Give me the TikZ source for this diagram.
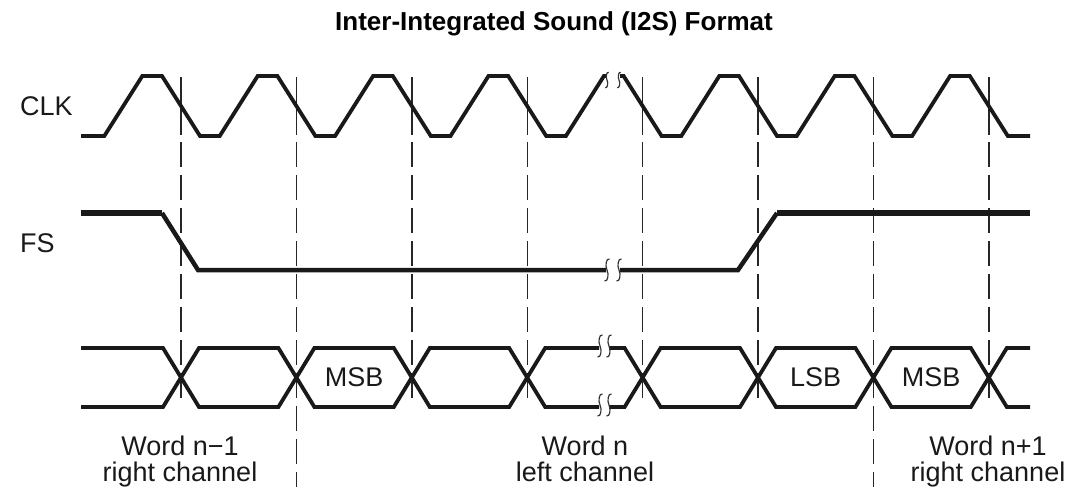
\documentclass[tikz,border=0pt]{standalone}
\usepackage{fontspec}
\setmainfont{Liberation Sans}
\begin{document}
\begin{tikzpicture}[x=1pt,y=-1pt,
  sig/.style={draw=black!90,line width=3.8pt,line join=miter,miter limit=3},
  fshi/.style={draw=black!90,line width=5.5pt},
  fslo/.style={draw=black!90,line width=4.5pt},
  guide/.style={draw=black!85,line width=1.4pt},
  guidedash/.style={draw=black!85,line width=1.4pt,dash pattern=on 25pt off 8pt},
  lbl/.style={font=\fontsize{27}{30}\selectfont,text=black!90,inner sep=0pt},
  brk/.pic={\draw[line width=1.2pt,black!80] (2.5,-11) .. controls (-1,-12) and (-2,-4) .. (0,0) .. controls (2,4) and (1,12) .. (-2.5,11);}
]
\useasboundingbox (0,0) rectangle (1070,487);

% title and signal names
\node[font=\bfseries\fontsize{26}{30}\selectfont,inner sep=0pt] (title) at (554,24) {Inter-Integrated Sound (I2S) Format};
\node[lbl,anchor=west] (clk) at (20,106) {CLK};
\node[lbl,anchor=west] (fs) at (20,243) {FS};

% guide lines
\foreach \c/\e in {181/405, 296.4/487, 411.8/405, 527.2/405, 642.6/405, 758/405, 873.4/487, 988.8/405} {
  \draw[guide] (\c,77) -- (\c,135);
  \draw[guidedash] (\c,142) -- (\c,\e);
}

% CLK
\draw[sig] (81,136) -- (104.3,136) -- (142.3,76) -- (162,76) -- (200,136) -- (219.7,136) -- (257.7,76) -- (277.4,76) -- (315.4,136) -- (335.1,136) -- (373.1,76) -- (392.8,76) -- (430.8,136) -- (450.5,136) -- (488.5,76) -- (508.2,76) -- (546.2,136) -- (565.9,136) -- (603.9,76) -- (606,76);
\draw[sig] (620,76) -- (623.6,76) -- (661.6,136) -- (681.3,136) -- (719.3,76) -- (739,76) -- (777,136) -- (796.7,136) -- (834.7,76) -- (854.4,76) -- (892.4,136) -- (912.1,136) -- (950.1,76) -- (969.8,76) -- (1007.8,136) -- (1030,136);
\pic[scale=0.7] at (607,80) {brk};
\pic[scale=0.7] at (619,80) {brk};

% FS
\draw[fshi] (81,213) -- (162,213);
\draw[fslo] (162,213) -- (198,270) -- (606,270);
\draw[fslo] (620,270) -- (738,270) -- (777,213);
\draw[fshi] (777,213) -- (1030,213);
\pic at (607,270) {brk};
\pic at (619,270) {brk};

% data
\draw[sig] (81,348) -- (163,348) -- (199,407) -- (278.4,407) -- (314.4,348) -- (393.8,348) -- (429.8,407) -- (509.2,407) -- (545.2,348) -- (599,348);
\draw[sig] (609,348) -- (624.6,348) -- (660.6,407) -- (740,407) -- (776,348) -- (855.4,348) -- (891.4,407) -- (970.8,407) -- (1006.8,348) -- (1030,348);
\draw[sig] (81,407) -- (163,407) -- (199,348) -- (278.4,348) -- (314.4,407) -- (393.8,407) -- (429.8,348) -- (509.2,348) -- (545.2,407) -- (599,407);
\draw[sig] (609,407) -- (624.6,407) -- (660.6,348) -- (740,348) -- (776,407) -- (855.4,407) -- (891.4,348) -- (970.8,348) -- (1006.8,407) -- (1030,407);
\pic at (600,346) {brk};
\pic at (609,346) {brk};
\pic at (600,405) {brk};
\pic at (609,405) {brk};

\node[lbl] (msbA) at (354.1,377.5) {MSB};
\node[lbl] (lsb) at (815.7,377.5) {LSB};
\node[lbl] (msbB) at (931.1,377.5) {MSB};

% word labels
\node[lbl,anchor=base] (wA1) at (180,455) {Word n−1};
\node[lbl,anchor=base] (wA2) at (180,481) {right channel};
\node[lbl,anchor=base] (wB1) at (585,455) {Word n};
\node[lbl,anchor=base] (wB2) at (585,481) {left channel};
\node[lbl,anchor=base] (wC1) at (988,455) {Word n+1};
\node[lbl,anchor=base] (wC2) at (988,481) {right channel};
\end{tikzpicture}
\end{document}
